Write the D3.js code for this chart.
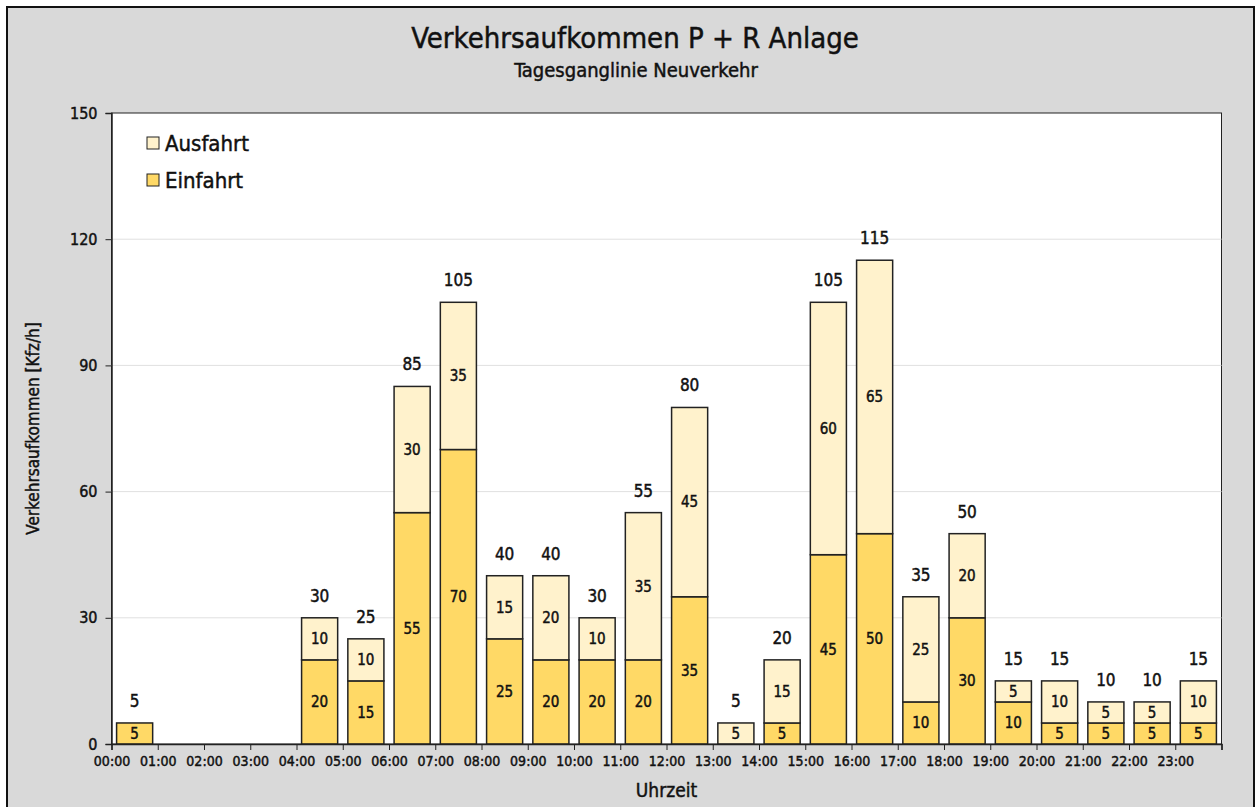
<!DOCTYPE html>
<html>
<head>
<meta charset="utf-8">
<script src="https://cdn.jsdelivr.net/npm/d3@7"></script>
<style>
  body { margin: 0; background: #fff; }
  svg text { font-family: "DejaVu Sans Condensed", "Liberation Sans Narrow", sans-serif; fill: #111; }
  .medium { stroke: #111; stroke-width: 0.45px; }
</style>
</head>
<body>
<div id="chart"></div>
<script>
// data
var hours = d3.range(0, 24);
var hourLabels = hours.map(function(h) { return (h < 10 ? "0" : "") + h + ":00"; });
var einfahrt = [5, 0, 0, 0, 20, 15, 55, 70, 25, 20, 20, 20, 35, 0, 5, 45, 50, 10, 30, 10, 5, 5, 5, 5];
var ausfahrt = [0, 0, 0, 0, 10, 10, 30, 35, 15, 20, 10, 35, 45, 5, 15, 60, 65, 25, 20, 5, 10, 5, 5, 10];
var yTicks = [0, 30, 60, 90, 120, 150];

var width = 1256, height = 807;
var plot = {left: 111.5, right: 1221.5, top: 113, bottom: 744};

var svg = d3.select("#chart").append("svg")
    .attr("width", width)
    .attr("height", height);

// outer frame
svg.append("rect")
    .attr("x", 7).attr("y", 7)
    .attr("width", 1247).attr("height", 810)
    .attr("fill", "#d9d9d9")
    .attr("stroke", "#111")
    .attr("stroke-width", 2);

// plot area
svg.append("rect")
    .attr("x", plot.left).attr("y", plot.top)
    .attr("width", plot.right - plot.left).attr("height", plot.bottom - plot.top)
    .attr("fill", "#fff")
    .attr("stroke", "#222")
    .attr("stroke-width", 1);

var x = d3.scaleBand()
    .domain(hours)
    .range([plot.left, plot.right])
    .paddingInner(0.22)
    .paddingOuter(0.11);

var xTick = d3.scaleLinear().domain([0, 24]).range([plot.left, plot.right]);

var y = d3.scaleLinear().domain([0, 150]).range([plot.bottom, plot.top]);

// gridlines
svg.append("g")
    .selectAll("line")
    .data(yTicks.filter(function(d) { return d > 0 && d < 150; }))
    .enter().append("line")
    .attr("x1", plot.left).attr("x2", plot.right)
    .attr("y1", function(d) { return y(d); })
    .attr("y2", function(d) { return y(d); })
    .attr("stroke", "#e0e0e0")
    .attr("stroke-width", 1);

// stacked bars
var rows = hours.map(function(h, i) {
    return {hour: h, ein: einfahrt[i], aus: ausfahrt[i], total: einfahrt[i] + ausfahrt[i]};
});

var bars = svg.append("g");

bars.selectAll(".ein")
    .data(rows.filter(function(d) { return d.ein > 0; }))
    .enter().append("rect")
    .attr("class", "ein")
    .attr("x", function(d) { return x(d.hour); })
    .attr("y", function(d) { return y(d.ein); })
    .attr("width", x.bandwidth())
    .attr("height", function(d) { return y(0) - y(d.ein); })
    .attr("fill", "#ffd966")
    .attr("stroke", "#222")
    .attr("stroke-width", 1.5);

bars.selectAll(".aus")
    .data(rows.filter(function(d) { return d.aus > 0; }))
    .enter().append("rect")
    .attr("class", "aus")
    .attr("x", function(d) { return x(d.hour); })
    .attr("y", function(d) { return y(d.total); })
    .attr("width", x.bandwidth())
    .attr("height", function(d) { return y(d.ein) - y(d.total); })
    .attr("fill", "#fff2cc")
    .attr("stroke", "#222")
    .attr("stroke-width", 1.5);

// labels inside segments
var labels = svg.append("g")
    .attr("text-anchor", "middle")
    .style("font-size", "15px");

labels.selectAll(".lein")
    .data(rows.filter(function(d) { return d.ein > 0; }))
    .enter().append("text")
    .attr("class", "medium")
    .attr("x", function(d) { return x(d.hour) + x.bandwidth() / 2; })
    .attr("y", function(d) { return y(d.ein / 2); })
    .attr("dy", "0.35em")
    .text(function(d) { return d.ein; });

labels.selectAll(".laus")
    .data(rows.filter(function(d) { return d.aus > 0; }))
    .enter().append("text")
    .attr("class", "medium")
    .attr("x", function(d) { return x(d.hour) + x.bandwidth() / 2; })
    .attr("y", function(d) { return y(d.ein + d.aus / 2); })
    .attr("dy", "0.35em")
    .text(function(d) { return d.aus; });

// totals
svg.append("g")
    .attr("text-anchor", "middle")
    .style("font-size", "17px")
    .selectAll("text")
    .data(rows.filter(function(d) { return d.total > 0; }))
    .enter().append("text")
    .attr("class", "medium")
    .attr("x", function(d) { return x(d.hour) + x.bandwidth() / 2; })
    .attr("y", function(d) { return y(d.total) - 22; })
    .attr("dy", "0.35em")
    .text(function(d) { return d.total; });

// y axis
var yAxis = svg.append("g")
    .attr("transform", "translate(" + plot.left + ",0)")
    .call(d3.axisLeft(y).tickValues(yTicks).tickSize(6).tickPadding(8));
yAxis.selectAll("text").attr("class", "medium").style("font-size", "16px");
yAxis.select(".domain").attr("stroke", "#222").attr("stroke-width", 1.5);
yAxis.selectAll(".tick line").attr("stroke", "#222");

// x axis
var xAxis = svg.append("g")
    .attr("transform", "translate(0," + plot.bottom + ")")
    .call(d3.axisBottom(xTick).tickValues(d3.range(0, 25))
        .tickFormat(function(d) { return d < 24 ? hourLabels[d] : ""; })
        .tickSize(6).tickPadding(6));
xAxis.selectAll("text").attr("class", "medium").style("font-size", "14px");
xAxis.select(".domain").attr("stroke", "#222").attr("stroke-width", 1.5);
xAxis.selectAll(".tick line").attr("stroke", "#222");

// axis titles
svg.append("text")
    .attr("class", "medium")
    .attr("x", (plot.left + plot.right) / 2)
    .attr("y", 790)
    .attr("dy", "0.35em")
    .attr("text-anchor", "middle")
    .style("font-size", "19px")
    .text("Uhrzeit");

svg.append("text")
    .attr("class", "medium")
    .attr("transform", "translate(33," + (plot.top + plot.bottom) / 2 + ") rotate(-90)")
    .attr("dy", "0.35em")
    .attr("text-anchor", "middle")
    .style("font-size", "17px")
    .text("Verkehrsaufkommen [Kfz/h]");

// titles
svg.append("text")
    .attr("class", "medium")
    .attr("x", 635).attr("y", 38)
    .attr("dy", "0.35em")
    .attr("text-anchor", "middle")
    .style("font-size", "29px")
    .text("Verkehrsaufkommen P + R Anlage");

svg.append("text")
    .attr("class", "medium")
    .attr("x", 636).attr("y", 70)
    .attr("dy", "0.35em")
    .attr("text-anchor", "middle")
    .style("font-size", "20px")
    .text("Tagesganglinie Neuverkehr");

// legend
var legendItems = [
    {name: "Ausfahrt", color: "#fff2cc"},
    {name: "Einfahrt", color: "#ffd966"}
];
var legend = svg.append("g")
    .selectAll("g")
    .data(legendItems)
    .enter().append("g")
    .attr("transform", function(d, i) { return "translate(147," + (137 + i * 37) + ")"; });
legend.append("rect")
    .attr("width", 12).attr("height", 12)
    .attr("fill", function(d) { return d.color; })
    .attr("stroke", "#222")
    .attr("stroke-width", 1);
legend.append("text")
    .attr("class", "medium")
    .attr("x", 18).attr("y", 6)
    .attr("dy", "0.35em")
    .style("font-size", "22px")
    .text(function(d) { return d.name; });
</script>
</body>
</html>
